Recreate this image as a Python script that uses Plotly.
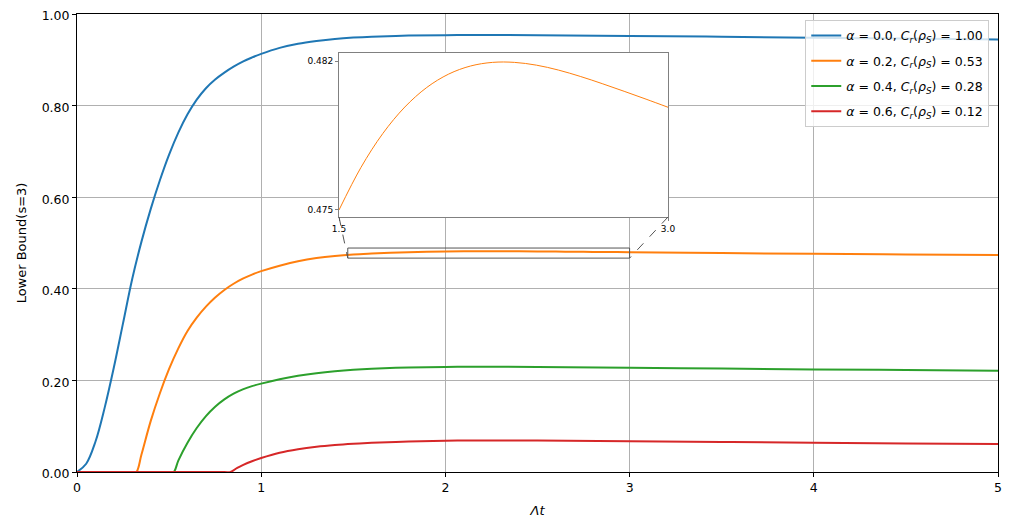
'import the required libraries'
import plotly.graph_objects as go

#lambda*t values and lower bounds for each alpha
t_blue = [0, 0.05, 0.1, 0.15, 0.2, 0.25, 0.3, 0.35, 0.4, 0.45, 0.5, 0.55, 0.6, 0.65, 0.7, 0.75, 0.8, 0.85,
          0.9, 0.95, 1.0, 1.1, 1.2, 1.3, 1.4, 1.5, 1.6, 1.8, 2.0, 2.2, 2.5, 3.0, 3.5, 4.0, 4.5, 5.0]
lb_blue = [0, 0.018, 0.066, 0.140, 0.228, 0.325, 0.422, 0.503, 0.574, 0.637, 0.693, 0.741, 0.781, 0.813, 0.838, 0.857, 0.872, 0.885,
           0.896, 0.905, 0.913, 0.926, 0.935, 0.941, 0.9455, 0.9485, 0.9505, 0.9528, 0.9538, 0.9541, 0.9537, 0.9522, 0.9503, 0.9483, 0.9463, 0.9443]

t_orange = [0, 0.30, 0.322, 0.35, 0.4, 0.45, 0.5, 0.55, 0.6, 0.65, 0.7, 0.75, 0.8, 0.85, 0.9, 0.95,
            1.0, 1.1, 1.2, 1.3, 1.4,
            1.5, 1.6, 1.7, 1.8, 1.9, 2.0, 2.1, 2.2, 2.3, 2.4, 2.5, 2.6, 2.7, 2.8, 2.9, 3.0,
            3.5, 4.0, 4.5, 5.0]
lb_orange = [0, 0, 0, 0.038, 0.111, 0.172, 0.225, 0.270, 0.308, 0.337, 0.361, 0.381, 0.3975, 0.411, 0.422, 0.431,
             0.4385, 0.4505, 0.4600, 0.4670, 0.4718,
             0.47500, 0.47700, 0.47860, 0.47984, 0.48076, 0.48139, 0.48177, 0.48194, 0.48194, 0.48181, 0.48158,
             0.48128, 0.48094, 0.48058, 0.48021, 0.47983,
             0.4780, 0.4764, 0.4750, 0.4737]

t_green = [0, 0.50, 0.525, 0.55, 0.6, 0.65, 0.7, 0.75, 0.8, 0.85, 0.9, 0.95, 1.0, 1.1, 1.2, 1.3, 1.4, 1.5,
           1.6, 1.8, 2.0, 2.2, 2.5, 3.0, 3.5, 4.0, 4.5, 5.0]
lb_green = [0, 0, 0, 0.025, 0.064, 0.096, 0.122, 0.1425, 0.1585, 0.171, 0.1805, 0.1875, 0.193, 0.2025, 0.2100, 0.2158, 0.2202, 0.2234,
            0.2256, 0.2282, 0.2294, 0.2298, 0.2293, 0.2277, 0.2258, 0.2240, 0.2226, 0.2213]

t_red = [0, 0.80, 0.833, 0.87, 0.9, 0.95, 1.0, 1.1, 1.2, 1.3, 1.4, 1.5, 1.6, 1.8, 2.0, 2.2, 2.5, 3.0, 3.5,
         4.0, 4.5, 5.0]
lb_red = [0, 0, 0, 0.009, 0.015, 0.0235, 0.0305, 0.042, 0.0497, 0.0551, 0.0589, 0.0616, 0.0636, 0.0665, 0.0684, 0.0689, 0.0686, 0.0673, 0.0656,
          0.0639, 0.0625, 0.0613]

legend_names = [
    '<i>α</i> = 0.0, <i>C<sub>r</sub></i>(<i>ρ<sub>S</sub></i>) = 1.00',
    '<i>α</i> = 0.2, <i>C<sub>r</sub></i>(<i>ρ<sub>S</sub></i>) = 0.53',
    '<i>α</i> = 0.4, <i>C<sub>r</sub></i>(<i>ρ<sub>S</sub></i>) = 0.28',
    '<i>α</i> = 0.6, <i>C<sub>r</sub></i>(<i>ρ<sub>S</sub></i>) = 0.12',
]
colors = ['#1f77b4', '#ff7f0e', '#2ca02c', '#d62728']

#zoomed inset window and the box marking it on the main axes
inset_x = [1.5, 3.0]
inset_y = [0.47467, 0.48238]
inset_xticks = [1.5, 3.0]
inset_yticks = [0.475, 0.482]
mark_x = [1.47, 3.0]
mark_y = [0.467, 0.489]

#inset placement in paper coordinates
inset_dom_x = [0.2845, 0.6417]
inset_dom_y = [0.5568, 0.9148]

FONT = 'DejaVu Sans'

#generate figure
fig = go.Figure()

#main curves
series = [(t_blue, lb_blue), (t_orange, lb_orange), (t_green, lb_green), (t_red, lb_red)]
for i, (tx, ly) in enumerate(series):
    fig.add_trace(go.Scatter(
        x=tx, y=ly,
        mode='lines',
        name=legend_names[i],
        legendgroup='g%d' % i,
        line=dict(color=colors[i], width=2, shape='spline', smoothing=1),
        xaxis='x', yaxis='y'
    ))

#inset: zoom on the alpha=0.2 curve
ins = [(a, b) for a, b in zip(t_orange, lb_orange) if inset_x[0] <= a <= inset_x[1]]
fig.add_trace(go.Scatter(
    x=[p[0] for p in ins], y=[p[1] for p in ins],
    mode='lines',
    showlegend=False,
    line=dict(color=colors[1], width=1, shape='spline', smoothing=1),
    xaxis='x2', yaxis='y2'
))

#white background for the inset, hides the main grid
fig.add_shape(type='rect', xref='x2', yref='y2',
              x0=inset_x[0], x1=inset_x[1], y0=inset_y[0], y1=inset_y[1],
              fillcolor='white', line=dict(width=0), layer='below')

#box on the main axes marking the zoomed region
fig.add_shape(type='rect', xref='x', yref='y',
              x0=mark_x[0], x1=mark_x[1], y0=mark_y[0], y1=mark_y[1],
              fillcolor='rgba(0,0,0,0)', line=dict(color='#555555', width=1))

#dashed connectors from inset corners to the marker box
xmax_main = 5.0
fig.add_shape(type='line', xref='paper', yref='paper',
              x0=inset_dom_x[0], y0=inset_dom_y[0], x1=mark_x[0] / xmax_main, y1=mark_y[0],
              line=dict(color='#555555', width=1, dash='dash'))
fig.add_shape(type='line', xref='paper', yref='paper',
              x0=inset_dom_x[1], y0=inset_dom_y[0], x1=mark_x[1] / xmax_main, y1=mark_y[0],
              line=dict(color='#555555', width=1, dash='dash'))

#update figure layout (page body keeps an 8px margin at top/left)
fig.update_layout(
    width=1006, height=510,
    template='none',
    paper_bgcolor='white',
    plot_bgcolor='white',
    font=dict(family=FONT, size=12.5, color='black'),
    margin=dict(l=69, r=16, t=6, b=46, autoexpand=False),
    showlegend=True,
    legend=dict(
        x=0.9905, y=0.987,
        xanchor='right', yanchor='top',
        bgcolor='rgba(255,255,255,0.8)',
        bordercolor='#cccccc', borderwidth=1,
        font=dict(family=FONT, size=12.5),
        tracegroupgap=6,
    ),
    xaxis=dict(
        range=[0, 5], dtick=1, domain=[0, 1], automargin=False,
        showgrid=True, gridcolor='#b0b0b0', gridwidth=0.8,
        showline=True, mirror=True, linecolor='black', linewidth=1,
        ticks='outside', ticklen=4, tickcolor='black',
        zeroline=False, ticklabeloverflow='allow',
        title=dict(text='<i>Λt</i>', font=dict(size=13), standoff=12),
    ),
    yaxis=dict(
        range=[0, 1], dtick=0.2, tickformat='.2f', domain=[0, 1], automargin=False,
        showgrid=True, gridcolor='#b0b0b0', gridwidth=0.8,
        showline=True, mirror=True, linecolor='black', linewidth=1,
        ticks='outside', ticklen=4, tickcolor='black',
        zeroline=False, ticklabeloverflow='allow', ticklabelshift=2,
        title=dict(text='Lower Bound(s=3)', font=dict(size=13), standoff=12),
    ),
    xaxis2=dict(
        domain=inset_dom_x, anchor='y2', range=inset_x, automargin=False,
        tickvals=inset_xticks, ticktext=['%.1f' % v for v in inset_xticks],
        showgrid=False, zeroline=False,
        showline=True, mirror=True, linecolor='#808080', linewidth=1,
        ticks='outside', ticklen=3, tickcolor='#808080',
        tickfont=dict(size=9),
    ),
    yaxis2=dict(
        domain=inset_dom_y, anchor='x2', range=inset_y, automargin=False,
        tickvals=inset_yticks, ticktext=['%.3f' % v for v in inset_yticks],
        showgrid=False, zeroline=False,
        showline=True, mirror=True, linecolor='#808080', linewidth=1,
        ticks='outside', ticklen=3, tickcolor='#808080',
        tickfont=dict(size=9),
    ),
)

fig.write_html("out.html")
